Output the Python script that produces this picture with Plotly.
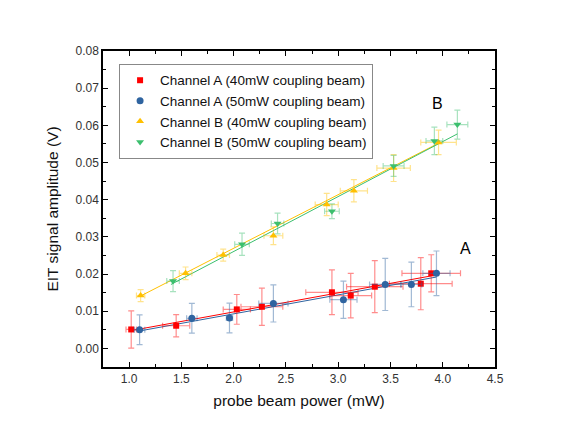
import plotly.graph_objects as go

# Channel A, 40 mW coupling beam (red squares)
a40_x = [1.02, 1.45, 2.03, 2.27, 2.94, 3.12, 3.35, 3.79, 3.89]
a40_y = [0.0051, 0.0061, 0.0105, 0.0112, 0.0151, 0.0142, 0.0166, 0.0174, 0.0202]
a40_ex = [0.05, 0.13, 0.13, 0.20, 0.25, 0.20, 0.27, 0.30, 0.28]
a40_ey = [0.005, 0.003, 0.004, 0.005, 0.006, 0.006, 0.007, 0.007, 0.005]

# Channel A, 50 mW coupling beam (blue circles)
a50_x = [1.10, 1.60, 1.96, 2.38, 3.05, 3.45, 3.70, 3.94]
a50_y = [0.0050, 0.0081, 0.0082, 0.0121, 0.0131, 0.0172, 0.0172, 0.0202]
a50_ex = [0.05, 0.05, 0.03, 0.14, 0.13, 0.15, 0.10, 0.13]
a50_ey = [0.004, 0.004, 0.004, 0.005, 0.005, 0.007, 0.006, 0.006]

# Channel B, 40 mW coupling beam (yellow up-triangles)
b40_x = [1.11, 1.54, 1.90, 2.38, 2.89, 3.15, 3.53, 3.96]
b40_y = [0.0142, 0.0202, 0.0251, 0.0303, 0.0387, 0.0424, 0.0485, 0.0554]
b40_ex = [0.04, 0.06, 0.06, 0.09, 0.11, 0.13, 0.16, 0.17]
b40_ey = [0.0016, 0.0017, 0.0016, 0.0024, 0.0030, 0.0030, 0.0036, 0.0033]

# Channel B, 50 mW coupling beam (green down-triangles)
b50_x = [1.42, 2.08, 2.42, 2.94, 3.53, 3.92, 4.14]
b50_y = [0.0181, 0.0280, 0.0336, 0.0369, 0.0491, 0.0558, 0.0602]
b50_ex = [0.06, 0.07, 0.06, 0.07, 0.10, 0.08, 0.10]
b50_ey = [0.0028, 0.0030, 0.0028, 0.0020, 0.0028, 0.0037, 0.0039]

# Linear fit lines (end points)
fit_a40_x = [1.02, 3.89]
fit_a40_y = [0.0048, 0.0195]
fit_a50_x = [1.10, 3.94]
fit_a50_y = [0.0047, 0.0192]
fit_b40_x = [1.11, 3.96]
fit_b40_y = [0.0141, 0.0552]
fit_b50_x = [1.40, 4.14]
fit_b50_y = [0.0172, 0.0577]

names = ["Channel A (40mW coupling beam)", "Channel A (50mW coupling beam)",
         "Channel B (40mW coupling beam)", "Channel B (50mW coupling beam)"]

RED = "#FF0000"
BLUE = "#2F64A0"
YEL = "#FFC000"
GRN = "#3CBF6E"

def rgba(h, a):
    h = h.lstrip("#")
    return "rgba(%d,%d,%d,%s)" % (int(h[0:2], 16), int(h[2:4], 16), int(h[4:6], 16), a)

fig = go.Figure()

series = [
    (a40_x, a40_y, a40_ex, a40_ey, RED, "square", 6, fit_a40_x, fit_a40_y),
    (a50_x, a50_y, a50_ex, a50_ey, BLUE, "circle", 7, fit_a50_x, fit_a50_y),
    (b40_x, b40_y, b40_ex, b40_ey, YEL, "triangle-up", 7, fit_b40_x, fit_b40_y),
    (b50_x, b50_y, b50_ex, b50_ey, GRN, "triangle-down", 7, fit_b50_x, fit_b50_y),
]

# fit lines first (behind)
for (x, y, ex, ey, c, sym, sz, fx, fy) in series:
    fig.add_trace(go.Scatter(x=fx, y=fy, mode="lines", line=dict(color=c, width=1),
                             showlegend=False, hoverinfo="skip"))

for i, (x, y, ex, ey, c, sym, sz, fx, fy) in enumerate(series):
    fig.add_trace(go.Scatter(
        x=x, y=y, mode="markers", name=names[i],
        marker=dict(symbol=sym, size=sz, color=c, line=dict(width=0)),
        error_x=dict(type="data", array=ex, visible=True, color=rgba(c, 0.45), thickness=1.2, width=3),
        error_y=dict(type="data", array=ey, visible=True, color=rgba(c, 0.45), thickness=1.2, width=3),
    ))

axis_common = dict(
    showline=True, linecolor="black", linewidth=1.5, mirror="allticks",
    ticks="inside", ticklen=5, tickwidth=1, tickcolor="black",
    showgrid=False, zeroline=False,
    tickfont=dict(family="Liberation Sans, Arial", size=12, color="#333"),
)

fig.update_xaxes(
    range=[0.75, 4.5], tickvals=[1.0, 1.5, 2.0, 2.5, 3.0, 3.5, 4.0, 4.5],
    ticktext=["1.0", "1.5", "2.0", "2.5", "3.0", "3.5", "4.0", "4.5"],
    minor=dict(dtick=0.25, tick0=0, ticks="inside", ticklen=3, tickcolor="black"),
    title=dict(text="probe beam power (mW)", font=dict(family="Liberation Sans, Arial", size=15.5, color="#111"), standoff=10),
    **axis_common,
)
fig.update_yaxes(
    range=[-0.005, 0.08], tickvals=[0, 0.01, 0.02, 0.03, 0.04, 0.05, 0.06, 0.07, 0.08],
    ticktext=["0.00", "0.01", "0.02", "0.03", "0.04", "0.05", "0.06", "0.07", "0.08"],
    minor=dict(dtick=0.005, tick0=0, ticks="inside", ticklen=3, tickcolor="black"),
    title=dict(text="EIT signal amplitude (V)", font=dict(family="Liberation Sans, Arial", size=15.5, color="#111"), standoff=13),
    **axis_common,
)

fig.add_annotation(x=4.22, y=0.0269, text="A", showarrow=False,
                   font=dict(family="Liberation Sans, Arial", size=16, color="black"))
fig.add_annotation(x=3.95, y=0.066, text="B", showarrow=False,
                   font=dict(family="Liberation Sans, Arial", size=16, color="black"))

# page body has an 8px default margin, so the figure is sized/offset to compensate
fig.update_layout(
    width=567, height=432,
    margin=dict(l=95, r=80, t=43, b=73, autoexpand=False),
    paper_bgcolor="white", plot_bgcolor="white",
    showlegend=True,
    legend=dict(x=0.041, y=0.959, xanchor="left", yanchor="top",
                bgcolor="white", bordercolor="#888", borderwidth=1,
                font=dict(family="Liberation Sans, Arial", size=13.5, color="#111"),
                tracegroupgap=0),
)

fig.write_html("out.html")
